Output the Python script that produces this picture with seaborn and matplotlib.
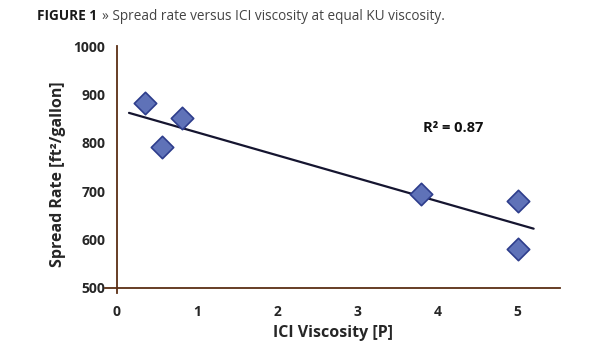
import numpy as np
import seaborn as sns
import matplotlib.pyplot as plt

# данные
ici_viscosity = [0.35, 0.56, 0.81, 3.79, 5.0, 5.0]
spread_rate = [882, 791, 851, 694, 680, 581]
fit_range = [0.15, 5.2]
r2_text = 'R² = 0.87'

sns.set_style('white')
plt.rcParams['font.family'] = ['Open Sans', 'DejaVu Sans']

axis_color = '#5a2e14'

fig = plt.figure(figsize=(6.15, 3.5), dpi=100)
ax = fig.add_axes([0.1707, 0.1634, 0.740, 0.705])

# линия тренда (МНК)
slope, intercept = np.polyfit(ici_viscosity, spread_rate, 1)
fit_x = np.array(fit_range)
ax.plot(fit_x, slope * fit_x + intercept, color='#151530', lw=1.6, zorder=2)

sns.scatterplot(x=ici_viscosity, y=spread_rate, marker='D', s=130,
                color='#5f72b8', edgecolor='#2e3d8c', linewidth=1.2,
                ax=ax, zorder=3)

ax.set_xlim(-0.15, 5.53)
ax.set_ylim(490, 1000)
ax.set_xticks([0, 1, 2, 3, 4, 5])
ax.set_yticks([500, 600, 700, 800, 900, 1000])

for side in ['top', 'right']:
    ax.spines[side].set_visible(False)
ax.spines['left'].set_position(('data', 0))
ax.spines['bottom'].set_position(('data', 500))
for side in ['left', 'bottom']:
    ax.spines[side].set_color(axis_color)
    ax.spines[side].set_linewidth(1.3)

ax.tick_params(direction='inout', length=9, width=1.3, color=axis_color,
               labelsize=10, pad=4)
for lab in ax.get_xticklabels() + ax.get_yticklabels():
    lab.set_fontweight('bold')
ax.tick_params(axis='x', pad=8)

ax.set_xlabel('ICI Viscosity [P]', fontsize=11.5, fontweight='bold', labelpad=4)
ax.set_ylabel('Spread Rate [ft²/gallon]', fontsize=11.5, fontweight='bold',
              labelpad=8)
ax.yaxis.set_label_coords(-0.085, 0.48)

ax.text(3.82, 830, r2_text, fontsize=10.5, fontweight='bold', color='#111111',
        ha='left', va='center')

fig.text(0.060, 0.953, 'FIGURE 1', fontsize=9.8, fontweight='bold',
         color='#1a1a1a', va='center')
fig.text(0.166, 0.953, '» Spread rate versus ICI viscosity at equal KU viscosity.',
         fontsize=9.8, color='#444444', va='center')

plt.savefig('out.png', dpi=100)
plt.close()
